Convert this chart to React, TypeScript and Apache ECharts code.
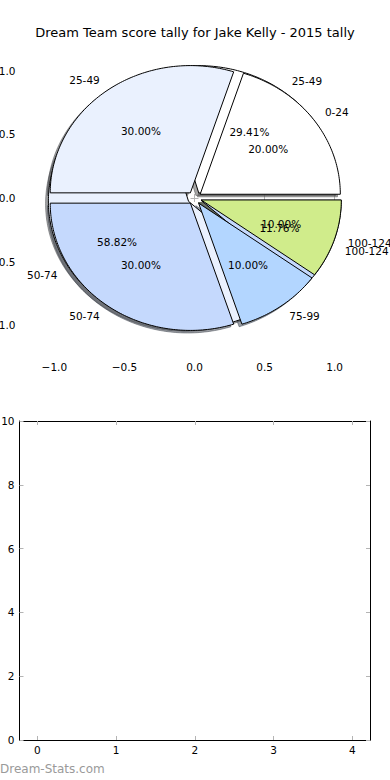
import React, { useEffect, useRef } from 'react';
import * as echarts from 'echarts';

const chartTitle = 'Dream Team score tally for Jake Kelly - 2015 tally';
const watermark = 'Dream-Stats.com';

// pie drawn on top (percentages out of 100)
const outerLabels = ['0-24', '25-49', '50-74', '75-99', '100-124'];
const outerValues = [20, 30, 30, 10, 10];
// pie drawn underneath (counts giving 29.41 / 58.82 / 11.76 %)
const innerLabels = ['25-49', '50-74', '100-124'];
const innerValues = [5, 10, 2];

const sliceColors = ['#ffffff', '#eaf1fe', '#c5d9fd', '#b3d6ff', '#d0ec8b'];

const pieTicks = [-1, -0.5, 0, 0.5, 1];
const emptyXTicks = [0, 1, 2, 3, 4];

const EXPLODE = 0.05;
const SHADOW_OFF = -0.02;
const FONT = '"DejaVu Sans", sans-serif';
const LABEL_SIZE = 10.5;

type Slice = {
  label: string;
  pct: string;
  t1: number;
  t2: number;
  mid: number;
  ox: number;
  oy: number;
  color: string;
};

function buildSlices(labels: string[], values: number[]): Slice[] {
  const total = values.reduce((a, b) => a + b, 0);
  let acc = 0;
  return values.map((v, i) => {
    const t1 = (acc / total) * 360;
    acc += v;
    const t2 = (acc / total) * 360;
    const mid = ((t1 + t2) / 2) * Math.PI / 180;
    return {
      label: labels[i],
      pct: ((v / total) * 100).toFixed(2) + '%',
      t1,
      t2,
      mid,
      ox: EXPLODE * Math.cos(mid),
      oy: EXPLODE * Math.sin(mid),
      color: sliceColors[i],
    };
  });
}

function darken(hex: string) {
  const n = parseInt(hex.slice(1), 16);
  const r = Math.round(((n >> 16) & 255) * 0.3);
  const g = Math.round(((n >> 8) & 255) * 0.3);
  const b = Math.round((n & 255) * 0.3);
  return `rgba(${r},${g},${b},0.5)`;
}

function wedgePoints(api: any, s: Slice, dx: number, dy: number) {
  const cx = s.ox + dx;
  const cy = s.oy + dy;
  const pts: number[][] = [api.coord([cx, cy])];
  const steps = Math.max(2, Math.ceil(s.t2 - s.t1));
  for (let k = 0; k <= steps; k++) {
    const a = ((s.t1 + ((s.t2 - s.t1) * k) / steps) * Math.PI) / 180;
    pts.push(api.coord([cx + Math.cos(a), cy + Math.sin(a)]));
  }
  return pts;
}

export default function App() {
  const ref = useRef<HTMLDivElement>(null);

  useEffect(() => {
    if (!ref.current) return;
    const chart = echarts.init(ref.current, undefined, { renderer: 'svg' });

    const outer = buildSlices(outerLabels, outerValues);
    const inner = buildSlices(innerLabels, innerValues);
    const drawOrder = [...inner, ...outer];

    const texts: { text: string; x: number; y: number; align: string }[] = [];
    drawOrder.forEach((s) => {
      const lx = s.ox + 1.1 * Math.cos(s.mid);
      const ly = s.oy + 1.1 * Math.sin(s.mid);
      texts.push({ text: s.label, x: lx, y: ly, align: lx > 0 ? 'left' : 'right' });
      texts.push({
        text: s.pct,
        x: s.ox + 0.6 * Math.cos(s.mid),
        y: s.oy + 0.6 * Math.sin(s.mid),
        align: 'center',
      });
    });

    const tickStyle = { show: true, inside: true, length: 4, lineStyle: { color: '#b4b4b4', width: 1 } };
    const labelStyle = { color: '#000', fontSize: LABEL_SIZE, fontFamily: FONT };
    const fmt1 = (v: number) => (v < 0 ? '\u2212' : '') + Math.abs(v).toFixed(1);

    const option: any = {
      animation: false,
      backgroundColor: '#ffffff',
      title: {
        text: chartTitle,
        left: 'center',
        top: 21,
        textStyle: { fontSize: 13, fontWeight: 'normal', color: '#000', fontFamily: FONT },
      },
      graphic: [
        {
          type: 'text',
          left: 0,
          top: 763,
          style: { text: watermark, fill: '#9a9a9a', font: `12px ${FONT}` },
        },
      ],
      grid: [
        { left: 20.5, right: 21.5, top: 40, bottom: 424, containLabel: false, outerBoundsMode: 'none' },
        { left: 19.5, right: 20, top: 421, bottom: 40, containLabel: false, outerBoundsMode: 'none' },
      ],
      xAxis: [
        {
          type: 'value', gridIndex: 0, position: 'bottom', min: -1.2415, max: 1.2415,
          axisLine: { show: false }, splitLine: { show: false },
          axisTick: { ...tickStyle, customValues: pieTicks },
          axisLabel: { ...labelStyle, margin: 5, customValues: pieTicks, formatter: fmt1 },
        },
        {
          type: 'value', gridIndex: 0, position: 'top', min: -1.2415, max: 1.2415,
          axisLine: { show: false }, splitLine: { show: false },
          axisTick: { ...tickStyle, customValues: pieTicks },
          axisLabel: { show: false },
        },
        {
          type: 'value', gridIndex: 1, position: 'bottom', min: -0.225, max: 4.225,
          axisLine: { show: true, onZero: false, lineStyle: { color: '#000', width: 1 } },
          splitLine: { show: false },
          axisTick: { ...tickStyle, customValues: emptyXTicks },
          axisLabel: { ...labelStyle, margin: 4, customValues: emptyXTicks, formatter: (v: number) => String(v) },
        },
        {
          type: 'value', gridIndex: 1, position: 'top', min: -0.225, max: 4.225,
          axisLine: { show: true, onZero: false, lineStyle: { color: '#000', width: 1 } },
          splitLine: { show: false },
          axisTick: { ...tickStyle, customValues: emptyXTicks },
          axisLabel: { show: false },
        },
      ],
      yAxis: [
        {
          type: 'value', gridIndex: 0, position: 'left', min: -1.2415, max: 1.2415,
          axisLine: { show: false }, splitLine: { show: false },
          axisTick: { ...tickStyle, customValues: pieTicks },
          axisLabel: { ...labelStyle, margin: 5, customValues: pieTicks, formatter: fmt1 },
        },
        {
          type: 'value', gridIndex: 0, position: 'right', min: -1.2415, max: 1.2415,
          axisLine: { show: false }, splitLine: { show: false },
          axisTick: { ...tickStyle, customValues: pieTicks },
          axisLabel: { show: false },
        },
        {
          type: 'value', gridIndex: 1, position: 'left', min: 0, max: 10, interval: 2,
          axisLine: { show: true, onZero: false, lineStyle: { color: '#000', width: 1 } },
          splitLine: { show: false },
          axisTick: tickStyle,
          axisLabel: { ...labelStyle, margin: 5 },
        },
        {
          type: 'value', gridIndex: 1, position: 'right', min: 0, max: 10, interval: 2,
          axisLine: { show: true, onZero: false, lineStyle: { color: '#000', width: 1 } },
          splitLine: { show: false },
          axisTick: tickStyle,
          axisLabel: { show: false },
        },
      ],
      series: [
        {
          type: 'custom',
          name: 'shadows',
          xAxisIndex: 0,
          yAxisIndex: 0,
          z: 1,
          silent: true,
          data: drawOrder.map((s) => [s.ox, s.oy]),
          renderItem: (params: any, api: any) => {
            const s = drawOrder[params.dataIndex];
            return {
              type: 'polygon',
              shape: { points: wedgePoints(api, s, SHADOW_OFF, SHADOW_OFF) },
              style: { fill: darken(s.color), stroke: darken(s.color), lineWidth: 1 },
            };
          },
        },
        {
          type: 'custom',
          name: 'under',
          xAxisIndex: 0,
          yAxisIndex: 0,
          z: 2,
          silent: true,
          data: inner.map((s) => [s.ox, s.oy]),
          renderItem: (params: any, api: any) => {
            const s = inner[params.dataIndex];
            return {
              type: 'polygon',
              shape: { points: wedgePoints(api, s, 0, 0) },
              style: { fill: s.color, stroke: '#000', lineWidth: 1 },
            };
          },
        },
        {
          type: 'custom',
          name: 'over',
          xAxisIndex: 0,
          yAxisIndex: 0,
          z: 3,
          silent: true,
          data: outer.map((s) => [s.ox, s.oy]),
          renderItem: (params: any, api: any) => {
            const s = outer[params.dataIndex];
            return {
              type: 'polygon',
              shape: { points: wedgePoints(api, s, 0, 0) },
              style: { fill: s.color, stroke: '#000', lineWidth: 1 },
            };
          },
        },
        {
          type: 'custom',
          name: 'labels',
          xAxisIndex: 0,
          yAxisIndex: 0,
          z: 4,
          silent: true,
          data: texts.map((t) => [t.x, t.y]),
          renderItem: (params: any, api: any) => {
            const t = texts[params.dataIndex];
            const p = api.coord([t.x, t.y]);
            return {
              type: 'text',
              x: p[0],
              y: p[1],
              style: {
                text: t.text,
                fill: '#000',
                font: `${LABEL_SIZE}px ${FONT}`,
                align: t.align,
                verticalAlign: 'middle',
              },
            };
          },
        },
        {
          type: 'line',
          name: 'empty',
          xAxisIndex: 2,
          yAxisIndex: 2,
          data: [],
        },
      ],
    };

    chart.setOption(option);
    return () => chart.dispose();
  }, []);

  return (
    <div
      ref={ref}
      style={{ position: 'fixed', left: 0, top: 0, width: 390, height: 780, background: '#fff' }}
    />
  );
}
